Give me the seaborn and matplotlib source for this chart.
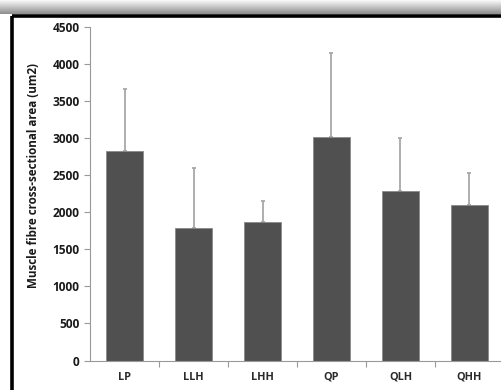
import numpy as np
import pandas as pd
import matplotlib
matplotlib.use("Agg")
import matplotlib.pyplot as plt
from matplotlib.lines import Line2D
import seaborn as sns

groups = ["LP", "LLH", "LHH", "QP", "QLH", "QHH"]
mean_area = [2830, 1790, 1870, 3010, 2280, 2090]
sd_area = [830, 800, 280, 1140, 720, 440]
y_ticks = [0, 500, 1000, 1500, 2000, 2500, 3000, 3500, 4000, 4500]

sns.set_theme(style="white")
plt.rcParams["font.family"] = ["Open Sans", "DejaVu Sans"]

df = pd.DataFrame({"group": groups, "area": mean_area})

W, H = 502, 390
fig = plt.figure(figsize=(W / 100, H / 100), dpi=100)
fig.patch.set_facecolor("white")

# shadow band and black frame across the top, frame line down the left
shadow = fig.add_axes([0, 1 - 14 / H, 1, 14 / H])
grad = np.linspace(0.98, 0.55, 50).reshape(-1, 1)
shadow.imshow(np.repeat(grad, 2, axis=1), cmap="gray", vmin=0, vmax=1,
              aspect="auto", extent=[0, 1, 0, 1], interpolation="bilinear")
shadow.set_axis_off()
fig.add_artist(Line2D([12.5 / W, 1], [1 - 15.5 / H, 1 - 15.5 / H],
                      color="black", lw=2.6, transform=fig.transFigure,
                      solid_capstyle="butt"))
fig.add_artist(Line2D([12.5 / W, 12.5 / W], [0, 1 - 15.5 / H],
                      color="black", lw=2.6, transform=fig.transFigure,
                      solid_capstyle="butt"))

left, right = 90 / W, 504 / W
bottom, top = (H - 360.5) / H, (H - 26.7) / H
ax = fig.add_axes([left, bottom, right - left, top - bottom])
ax.set_facecolor("none")

sns.barplot(data=df, x="group", y="area", color="#505050", width=0.55,
            edgecolor="#8a8a8a", linewidth=0.6, saturation=1, ax=ax, zorder=2)
ax.errorbar(np.arange(len(groups)), mean_area,
            yerr=[np.zeros(len(sd_area)), sd_area], fmt="none",
            ecolor="#a8a8a8", elinewidth=1.3, capsize=1.5, capthick=1.3,
            zorder=1)

ax.set_xlim(-0.5, len(groups) - 0.5)
ax.set_ylim(0, 4500)
ax.set_yticks(y_ticks)
ax.set_yticklabels([str(v) for v in y_ticks], fontsize=8.6, fontweight="bold",
                   color="#1a1a1a")
ax.set_xticks(range(len(groups)))
ax.set_xticklabels(groups, fontsize=7.8, fontweight="bold", color="#2a2a2a")
ax.set_xticks(np.arange(0.5, len(groups), 1.0), minor=True)
ax.tick_params(axis="x", which="major", length=0, pad=8)
ax.tick_params(axis="x", which="minor", length=4, width=0.8, color="#999999",
               direction="out", bottom=True)
ax.tick_params(axis="y", length=4, width=0.8, color="#999999",
               direction="out", left=True, pad=3.5)

for s in ["top", "right"]:
    ax.spines[s].set_visible(False)
for s in ["left", "bottom"]:
    ax.spines[s].set_color("#999999")
    ax.spines[s].set_linewidth(0.8)

ax.set_xlabel("")
ax.set_ylabel("Muscle fibre cross-sectional area (um2)", fontsize=8.4,
              fontweight="bold", color="#1a1a1a")
ax.yaxis.set_label_coords((40 - 90) / 414, 0.555)

fig.savefig("out.png", dpi=100, facecolor="white")
